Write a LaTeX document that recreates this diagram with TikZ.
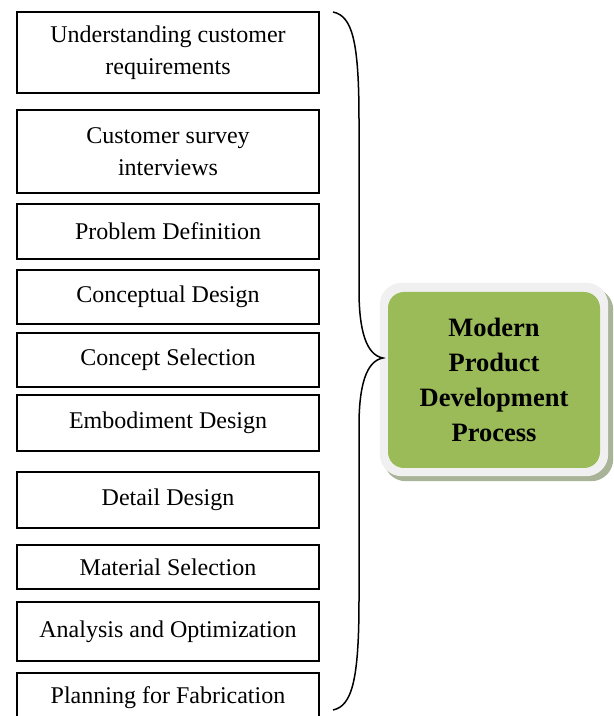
\documentclass[tikz,border=0pt]{standalone}
\usepackage{fontspec}
\setmainfont{Liberation Serif}
\usetikzlibrary{calc,backgrounds}
\definecolor{PdpInk}{HTML}{000000}
\definecolor{PdpGreen}{HTML}{9BBB59}
\definecolor{PdpRim}{HTML}{F0F0F0}
\definecolor{PdpShadow}{HTML}{A9B398}
\tikzset{
  pdp step/.style={draw=PdpInk, line width=1.5pt, minimum width=302pt, inner sep=0pt,
    align=center, font=\fontsize{24}{32}\selectfont, text=PdpInk},
  pdp hub/.style={fill=PdpGreen, rounded corners=16pt, minimum width=212pt, minimum height=176pt,
    align=center, font=\bfseries\fontsize{26.5}{35}\selectfont, text=PdpInk},
  pdp rim/.style={fill=PdpRim, rounded corners=22pt},
  pdp shadow/.style={fill=PdpShadow, rounded corners=22pt},
  pdp brace/.style={draw=PdpInk, line width=1.5pt},
}

\begin{document}
\begin{tikzpicture}[x=1pt,y=1pt]
  \useasboundingbox (0,0) rectangle (614,716);
  \clip (0,0) rectangle (614,716);

  % steps, top to bottom
  \node[pdp step, minimum height=81pt] (s1) at (168,663.5) {Understanding customer\\requirements};
  \node[pdp step, minimum height=83pt] (s2) at (168,564.5) {Customer survey\\interviews};
  \node[pdp step, minimum height=55pt] (s3) at (168,484.5) {Problem Definition};
  \node[pdp step, minimum height=54pt] (s4) at (168,419) {Conceptual Design};
  \node[pdp step, minimum height=54pt] (s5) at (168,356) {Concept Selection};
  \node[pdp step, minimum height=56pt] (s6) at (168,293) {Embodiment Design};
  \node[pdp step, minimum height=56pt] (s7) at (168,216) {Detail Design};
  \node[pdp step, minimum height=44pt] (s8) at (168,149) {Material Selection};
  \node[pdp step, minimum height=59pt] (s9) at (168,84.5) {Analysis and Optimization};
  \node[pdp step, minimum height=50pt] (s10) at (168,18) {Planning for Fabrication};

  % the process box with its rim and shadow
  \node[pdp hub] (hub) at (494,336) {Modern\\Product\\Development\\Process};
  \begin{scope}[on background layer]
    \fill[pdp shadow] ($(hub.south west)+(-4,-13)$) rectangle ($(hub.north east)+(13,4)$);
    \fill[pdp rim] ($(hub.south west)+(-8,-8)$) rectangle ($(hub.north east)+(8,9)$);
  \end{scope}

  % brace gathering the steps
  \coordinate (brace top) at (333,704);
  \coordinate (brace tip) at (383,358);
  \coordinate (brace bottom) at (333,6);
  \draw[pdp brace] (brace top) .. controls (352,700) and (359,676) .. (359,596)
    -- (359,426) .. controls (359,386) and (366,361) .. (brace tip)
    .. controls (366,355) and (359,330) .. (359,290)
    -- (359,116) .. controls (359,36) and (352,10) .. (brace bottom);
\end{tikzpicture}
\end{document}
